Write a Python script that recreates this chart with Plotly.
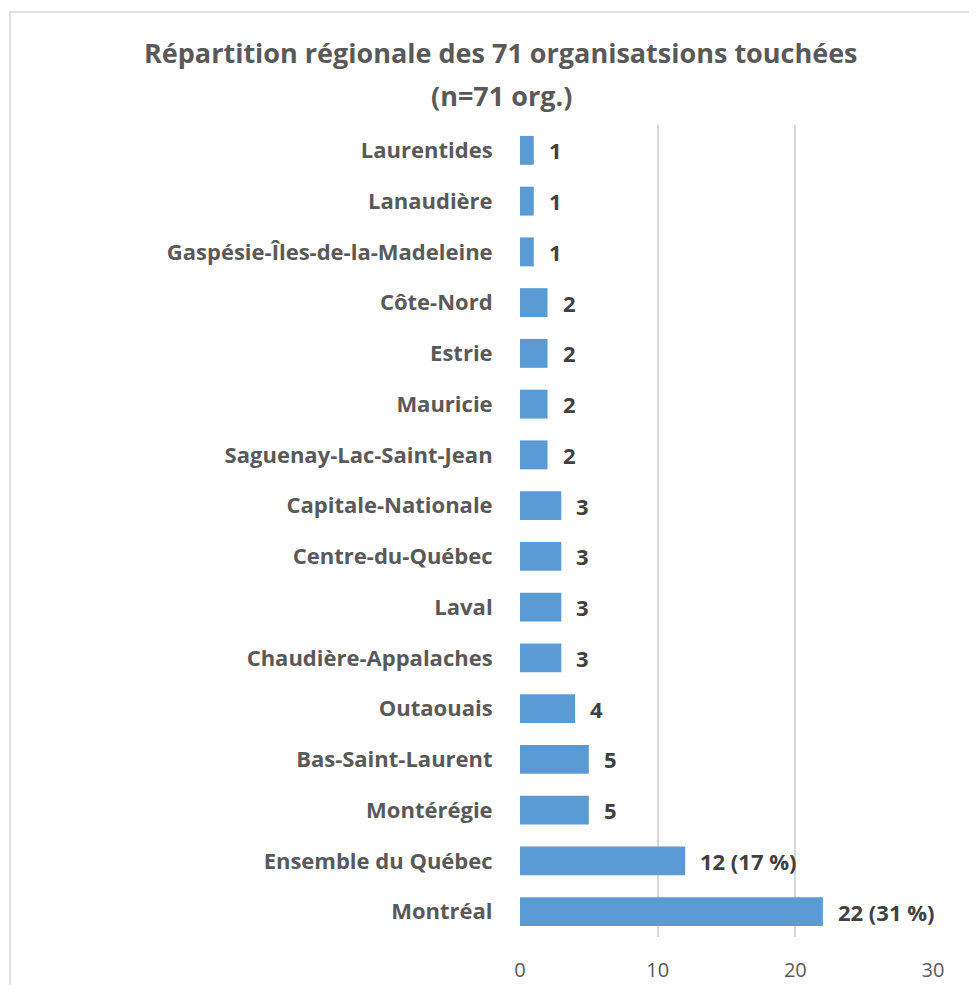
import plotly.graph_objects as go

# ---- données (ordre du haut vers le bas) ----
REGIONS = ["Laurentides", "Lanaudière", "Gaspésie-Îles-de-la-Madeleine", "Côte-Nord", "Estrie",
           "Mauricie", "Saguenay-Lac-Saint-Jean", "Capitale-Nationale", "Centre-du-Québec", "Laval",
           "Chaudière-Appalaches", "Outaouais", "Bas-Saint-Laurent", "Montérégie",
           "Ensemble du Québec", "Montréal"]
NB_ORG = [1, 1, 1, 2, 2, 2, 2, 3, 3, 3, 3, 4, 5, 5, 12, 22]
ETIQUETTES = ["1", "1", "1", "2", "2", "2", "2", "3", "3", "3", "3", "4", "5", "5",
              "12 (17 %)", "22 (31 %)"]
TICKS_X = [0, 10, 20, 30]
TITRE = ["Répartition régionale des 71 organisatsions touchées", "(n=71 org.)"]

BLEU = "#5B9BD5"; GRIS = "#595959"; FONCE = "#404040"; GRILLE = "#D9D9D9"
FONT = "'Open Sans', sans-serif"

# la page ajoute une marge de 8 px : on travaille dans un cadre décalé
W, H = 969, 977
L, R, T, B = 512, 44, 117, 48

fig = go.Figure()
fig.add_bar(y=REGIONS, x=NB_ORG, orientation="h", marker=dict(color=BLEU, line=dict(width=0)),
            hoverinfo="skip")

for reg, v, txt in zip(REGIONS, NB_ORG, ETIQUETTES):
    fig.add_annotation(x=v, y=reg, text=f"<b>{txt}</b>", showarrow=False, xanchor="left",
                       xshift=13, font=dict(family=FONT, size=22, color=FONCE))

# titre sur deux lignes (interligne large)
pw = W - L - R; ph = H - T - B
for i, ligne in enumerate(TITRE):
    fig.add_annotation(xref="paper", yref="paper", x=(493 - L) / pw, y=1 + (T - 45 - 42 * i) / ph,
                       text=f"<b>{ligne}</b>", showarrow=False, xanchor="center", yanchor="middle",
                       font=dict(family=FONT, size=27, color=GRIS))

# cadre du graphique (coupé à droite et en bas)
fig.add_shape(type="rect", xref="paper", yref="paper",
              x0=(2 - L) / pw, x1=(W + 20 - L) / pw,
              y0=-(B + 20) / ph, y1=1 + (T - 4) / ph,
              line=dict(color=GRILLE, width=1.5), layer="below")

fig.update_layout(
    width=W, height=H, margin=dict(l=L, r=R, t=T, b=B, autoexpand=False),
    paper_bgcolor="white", plot_bgcolor="white", bargap=0.43, showlegend=False,
    font=dict(family=FONT, color=GRIS),
    xaxis=dict(range=[0, 30], tickvals=TICKS_X, showgrid=True, gridcolor=GRILLE, gridwidth=1.5,
               zeroline=False, showline=False, ticks="outside", ticklen=15, tickcolor="white",
               automargin=False, tickfont=dict(family=FONT, size=20, color=GRIS)),
    yaxis=dict(autorange="reversed", showgrid=False, zeroline=False, showline=False,
               ticks="outside", ticklen=22, tickcolor="white", automargin=False,
               tickfont=dict(family=FONT, size=22, color=GRIS, weight="bold")),
)
fig.write_html("out.html")
